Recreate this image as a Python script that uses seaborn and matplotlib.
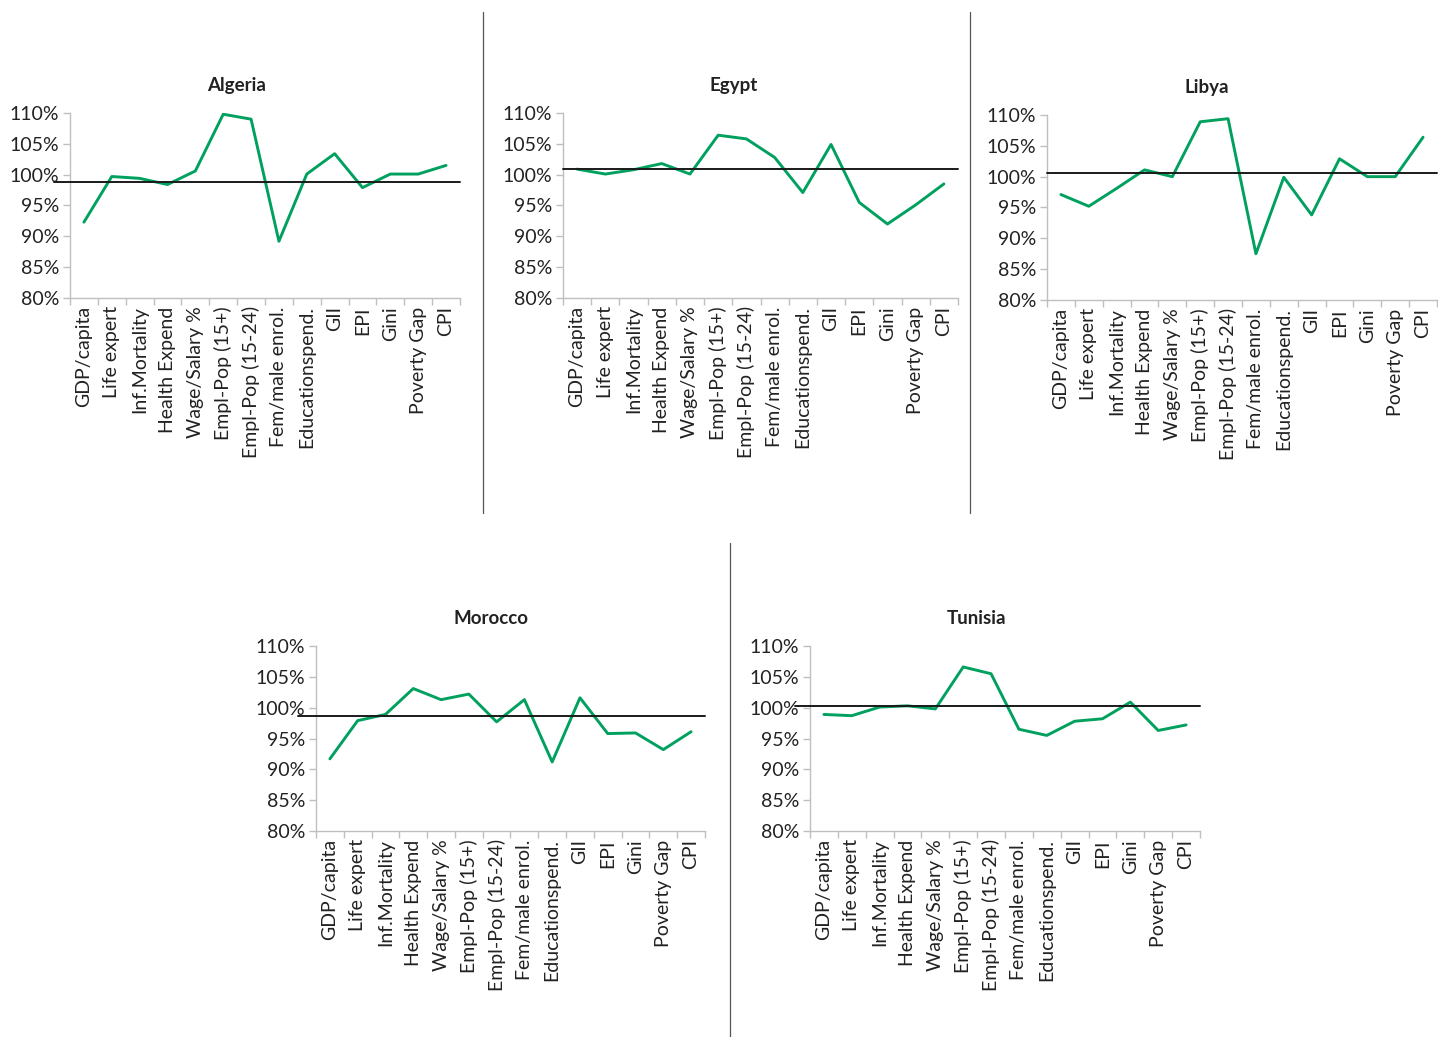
import matplotlib
matplotlib.use("Agg")
import matplotlib.pyplot as plt
import numpy as np
import pandas as pd
import seaborn as sns
from matplotlib.ticker import FuncFormatter, FixedLocator

INDICATORS = [
    "GDP/capita", "Life expert", "Inf.Mortality", "Health Expend",
    "Wage/Salary %", "Empl-Pop (15+)", "Empl-Pop (15-24)", "Fem/male enrol.",
    "Educationspend.", "GII", "EPI", "Gini", "Poverty Gap", "CPI",
]

ALGERIA = [92.3, 99.7, 99.4, 98.4, 100.6, 109.8, 109.0, 89.2,
           100.1, 103.4, 97.9, 100.1, 100.1, 101.5]
EGYPT = [100.9, 100.1, 100.8, 101.8, 100.1, 106.4, 105.8, 102.8,
         97.1, 104.9, 95.5, 92.0, 95.1, 98.5]
LIBYA = [97.1, 95.2, 98.1, 101.1, 100.0, 108.9, 109.4, 87.5,
         99.9, 93.8, 102.9, 100.0, 100.0, 106.4]
MOROCCO = [91.7, 97.9, 98.9, 103.1, 101.3, 102.2, 97.7, 101.3,
           91.2, 101.6, 95.8, 95.9, 93.2, 96.1]
TUNISIA = [98.9, 98.7, 100.1, 100.3, 99.8, 106.6, 105.5, 96.5,
           95.5, 97.8, 98.2, 100.9, 96.3, 97.2]

COUNTRIES = ["Algeria", "Egypt", "Libya", "Morocco", "Tunisia"]
SERIES = [ALGERIA, EGYPT, LIBYA, MOROCCO, TUNISIA]
# black reference line per country
REF_LEVEL = [98.8, 100.9, 100.6, 98.6, 100.3]

W, H = 1438, 1037
# axes boxes in pixels: left, top, right, bottom
BOXES = [
    (70, 113, 460, 298),
    (563, 113, 958, 298),
    (1047, 115, 1437, 300),
    (316, 646, 705, 831),
    (810, 646, 1200, 831),
]
# how far the black line starts left of the y axis (axes fraction)
REF_XMIN = [-0.04, 0.0, 0.0, -0.045, -0.038]
# titles are centred on the whole chart block, not the plot area
TITLE_X = [0.428, 0.433, 0.41, 0.45, 0.428]

GREEN = "#00a05e"
SPINE = "#bfbfbf"

sns.set_style("white")
plt.rcParams["font.family"] = ["Lato", "DejaVu Sans"]

fig = plt.figure(figsize=(W / 100, H / 100), dpi=100)

for name, vals, ref, box, xmin, tx in zip(COUNTRIES, SERIES, REF_LEVEL, BOXES,
                                         REF_XMIN, TITLE_X):
    l, t, r, b = box
    ax = fig.add_axes([l / W, 1 - b / H, (r - l) / W, (b - t) / H])
    df = pd.DataFrame({"x": np.arange(len(INDICATORS)), "v": np.array(vals) / 100})
    sns.lineplot(data=df, x="x", y="v", ax=ax, color=GREEN, linewidth=2.1)
    ax.axhline(ref / 100, xmin=xmin, xmax=1.0, color="#1a1a1a", linewidth=1.4,
               clip_on=False, zorder=3)

    ax.set_xlim(-0.5, len(INDICATORS) - 0.5)
    ax.set_ylim(0.8, 1.1)
    ax.set_yticks(np.arange(0.8, 1.1001, 0.05))
    ax.yaxis.set_major_formatter(FuncFormatter(lambda y, _: f"{y * 100:.0f}%"))
    ax.set_xticks(np.arange(len(INDICATORS)))
    ax.set_xticklabels(INDICATORS, rotation=90)
    ax.xaxis.set_minor_locator(FixedLocator(np.arange(-0.5, len(INDICATORS), 1.0)))
    ax.tick_params(axis="x", which="major", length=0, pad=6, labelsize=14,
                   colors="#222222")
    ax.tick_params(axis="x", which="minor", length=5, color=SPINE, width=1,
                   bottom=True)
    ax.tick_params(axis="y", length=5, color=SPINE, width=1, left=True,
                   labelsize=14, labelcolor="#222222", pad=3)
    for side in ["top", "right"]:
        ax.spines[side].set_visible(False)
    for side in ["left", "bottom"]:
        ax.spines[side].set_color(SPINE)
        ax.spines[side].set_linewidth(1)
    ax.set_xlabel("")
    ax.set_ylabel("")
    ax.set_title(name, x=tx, fontsize=13.5, fontweight="bold", color="#222222",
                 pad=16)

# panel separators
sep_color = "#555555"
fig.add_artist(plt.Line2D([483 / W, 483 / W], [1 - 12 / H, 1 - 513 / H],
                          color=sep_color, linewidth=0.9))
fig.add_artist(plt.Line2D([970 / W, 970 / W], [1 - 12 / H, 1 - 513 / H],
                          color=sep_color, linewidth=0.9))
fig.add_artist(plt.Line2D([730 / W, 730 / W], [1 - 543 / H, 1 - 1037 / H],
                          color=sep_color, linewidth=0.9))

fig.savefig("out.png", dpi=100)
